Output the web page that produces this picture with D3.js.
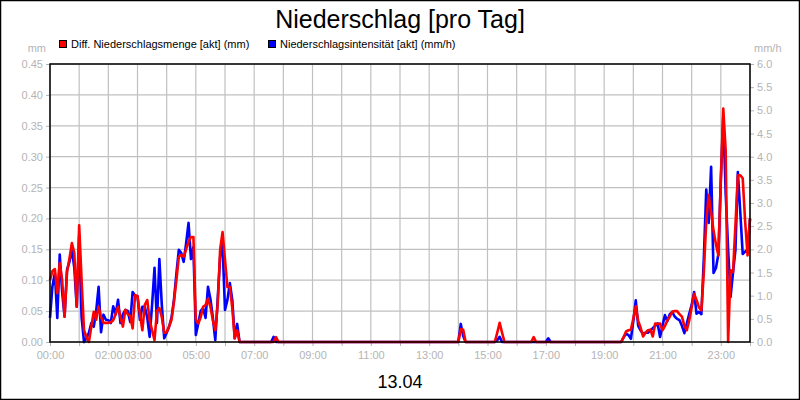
<!DOCTYPE html>
<html>
<head>
<meta charset="utf-8">
<script src="https://cdn.jsdelivr.net/npm/d3@7"></script>
<style>
  body { margin: 0; background: #fff; }
  svg { display: block; font-family: "Liberation Sans", Arial, sans-serif; }
</style>
</head>
<body>
<div id="chart"></div>
<script>
// values every 5 minutes, one row per hour (00:00 .. 24:00)
const mengeMm = [
  0.100, 0.115, 0.118, 0.079, 0.128, 0.100, 0.041, 0.113, 0.135, 0.160, 0.144, 0.057,
  0.189, 0.100, 0.019, 0.008, 0.000, 0.025, 0.049, 0.036, 0.057, 0.040, 0.031, 0.031,
  0.031, 0.032, 0.035, 0.045, 0.057, 0.040, 0.025, 0.052, 0.045, 0.042, 0.022, 0.076,
  0.074, 0.045, 0.019, 0.060, 0.068, 0.035, 0.019, 0.003, 0.050, 0.055, 0.040, 0.015,
  0.016, 0.025, 0.036, 0.065, 0.100, 0.138, 0.141, 0.138, 0.150, 0.162, 0.170, 0.170,
  0.036, 0.030, 0.040, 0.057, 0.060, 0.070, 0.057, 0.035, 0.019, 0.060, 0.150, 0.178,
  0.133, 0.089, 0.089, 0.055, 0.006, 0.019, 0.000, 0.000, 0.000, 0.000, 0.000, 0.000,
  0.000, 0.000, 0.000, 0.000, 0.000, 0.000, 0.000, 0.000, 0.000, 0.008, 0.000, 0.000,
  0, 0, 0, 0, 0, 0, 0, 0, 0, 0, 0, 0,
  0, 0, 0, 0, 0, 0, 0, 0, 0, 0, 0, 0,
  0, 0, 0, 0, 0, 0, 0, 0, 0, 0, 0, 0,
  0, 0, 0, 0, 0, 0, 0, 0, 0, 0, 0, 0,
  0, 0, 0, 0, 0, 0, 0, 0, 0, 0, 0, 0,
  0, 0, 0, 0, 0, 0, 0, 0, 0, 0, 0, 0,
  0.000, 0.021, 0.020, 0.000, 0.000, 0.000, 0.000, 0.000, 0.000, 0.000, 0.000, 0.000,
  0.000, 0.000, 0.000, 0.000, 0.015, 0.031, 0.015, 0.000, 0.000, 0.000, 0.000, 0.000,
  0.000, 0.000, 0.000, 0.000, 0.000, 0.000, 0.000, 0.008, 0.000, 0.000, 0.000, 0.000,
  0, 0, 0, 0, 0, 0, 0, 0, 0, 0, 0, 0,
  0, 0, 0, 0, 0, 0, 0, 0, 0, 0, 0, 0,
  0.000, 0.000, 0.000, 0.000, 0.000, 0.000, 0.000, 0.000, 0.008, 0.017, 0.019, 0.020,
  0.038, 0.058, 0.034, 0.023, 0.009, 0.015, 0.019, 0.020, 0.009, 0.030, 0.029, 0.030,
  0.019, 0.026, 0.035, 0.041, 0.049, 0.050, 0.050, 0.045, 0.041, 0.026, 0.019, 0.035,
  0.056, 0.078, 0.068, 0.056, 0.051, 0.113, 0.195, 0.238, 0.210, 0.180, 0.158, 0.140,
  0.263, 0.378, 0.310, 0.000, 0.116, 0.113, 0.188, 0.270, 0.270, 0.265, 0.195, 0.140,
  0.200
];

const intensMmh = [
  0.52, 1.20, 1.49, 0.52, 1.89, 1.07, 0.55, 1.56, 1.73, 1.99, 1.60, 0.76,
  2.30, 0.53, 0.00, 0.08, 0.20, 0.41, 0.33, 0.67, 1.19, 0.21, 0.59, 0.48,
  0.47, 0.41, 0.77, 0.60, 0.91, 0.41, 0.60, 0.69, 0.67, 0.43, 1.08, 1.00,
  0.99, 0.48, 0.76, 0.76, 0.53, 0.11, 0.80, 1.60, 0.41, 1.79, 0.80, 0.08,
  0.20, 0.33, 0.53, 0.91, 1.47, 1.99, 1.92, 1.73, 2.13, 2.57, 1.79, 2.05,
  0.15, 0.40, 0.67, 0.73, 0.52, 1.19, 0.93, 0.53, 0.04, 0.93, 1.84, 2.09,
  0.69, 0.91, 1.27, 0.91, 0.08, 0.39, 0.00, 0.00, 0.00, 0.00, 0.00, 0.00,
  0.00, 0.00, 0.00, 0.00, 0.00, 0.00, 0.00, 0.00, 0.11, 0.00, 0.00, 0.00,
  0, 0, 0, 0, 0, 0, 0, 0, 0, 0, 0, 0,
  0, 0, 0, 0, 0, 0, 0, 0, 0, 0, 0, 0,
  0, 0, 0, 0, 0, 0, 0, 0, 0, 0, 0, 0,
  0, 0, 0, 0, 0, 0, 0, 0, 0, 0, 0, 0,
  0, 0, 0, 0, 0, 0, 0, 0, 0, 0, 0, 0,
  0, 0, 0, 0, 0, 0, 0, 0, 0, 0, 0, 0,
  0.00, 0.39, 0.13, 0.00, 0.00, 0.00, 0.00, 0.00, 0.00, 0.00, 0.00, 0.00,
  0.00, 0.00, 0.00, 0.00, 0.04, 0.11, 0.00, 0.00, 0.00, 0.00, 0.00, 0.00,
  0.00, 0.00, 0.00, 0.00, 0.00, 0.00, 0.00, 0.00, 0.00, 0.00, 0.00, 0.00,
  0.00, 0.08, 0.00, 0.00, 0.00, 0.00, 0.00, 0.00, 0.00, 0.00, 0.00, 0.00,
  0, 0, 0, 0, 0, 0, 0, 0, 0, 0, 0, 0,
  0.00, 0.00, 0.00, 0.00, 0.00, 0.00, 0.00, 0.00, 0.10, 0.18, 0.15, 0.07,
  0.45, 0.90, 0.35, 0.25, 0.18, 0.20, 0.20, 0.25, 0.30, 0.35, 0.40, 0.11,
  0.35, 0.58, 0.45, 0.60, 0.65, 0.55, 0.50, 0.47, 0.35, 0.19, 0.40, 0.61,
  0.80, 1.08, 0.61, 0.65, 0.60, 1.80, 3.29, 2.57, 3.78, 1.49, 1.60, 1.90,
  3.50, 4.86, 3.20, 2.00, 0.97, 1.50, 1.98, 3.67, 2.80, 1.90, 1.95, 2.00,
  2.66
];

const hourTicks = d3.range(0, 25);
const hourLabels = ["00:00", "02:00", "03:00", "05:00", "07:00", "09:00", "11:00",
                    "13:00", "15:00", "17:00", "19:00", "21:00", "23:00"];
const leftTicks = d3.range(0, 0.451, 0.05);
const rightTicks = d3.range(0, 6.01, 0.5);

const W = 800, H = 400;
const margin = {top: 64, right: 50, bottom: 58, left: 50};
const w = W - margin.left - margin.right;
const h = H - margin.top - margin.bottom;
const grey = "#b4b4b4";

const svg = d3.select("#chart").append("svg")
  .attr("width", W).attr("height", H);

svg.append("rect").attr("x", 0.5).attr("y", 0.5)
  .attr("width", W - 1).attr("height", H - 1)
  .attr("fill", "#fff").attr("stroke", "#000").attr("stroke-width", 1.5);

svg.append("text").attr("x", W / 2).attr("y", 28)
  .attr("text-anchor", "middle").attr("font-size", 25)
  .text("Niederschlag [pro Tag]");

svg.append("text").attr("x", W / 2).attr("y", 388)
  .attr("text-anchor", "middle").attr("font-size", 18)
  .text("13.04");

// legend
const legend = [
  {label: "Diff. Niederschlagsmenge [akt] (mm)", color: "#ff0000", x: 59},
  {label: "Niederschlagsintensität [akt] (mm/h)", color: "#0000ff", x: 268}
];
legend.forEach(d => {
  svg.append("rect").attr("x", d.x + 0.5).attr("y", 40.5).attr("width", 7).attr("height", 7)
    .attr("fill", d.color).attr("stroke", "#000");
  svg.append("text").attr("x", d.x + 12).attr("y", 48)
    .attr("font-size", 11).text(d.label);
});

svg.append("text").attr("x", 46).attr("y", 52).attr("text-anchor", "end")
  .attr("font-size", 11).attr("fill", grey).text("mm");
svg.append("text").attr("x", 754).attr("y", 52)
  .attr("font-size", 11).attr("fill", grey).text("mm/h");

const g = svg.append("g").attr("transform", `translate(${margin.left},${margin.top})`);

const x = d3.scaleLinear().domain([0, 24 * 60]).range([0, w]);
const yL = d3.scaleLinear().domain([0, 0.45]).range([h, 0]);
const yR = d3.scaleLinear().domain([0, 6]).range([h, 0]);

// grid
g.selectAll(".vgrid").data(hourTicks).enter().append("line")
  .attr("x1", d => x(d * 60)).attr("x2", d => x(d * 60))
  .attr("y1", 0).attr("y2", h)
  .attr("stroke", "#c0c0c0").attr("stroke-width", 1.2);
g.selectAll(".hgrid").data(leftTicks).enter().append("line")
  .attr("x1", 0).attr("x2", w)
  .attr("y1", d => yL(d)).attr("y2", d => yL(d))
  .attr("stroke", "#c0c0c0").attr("stroke-width", 1.2);

// axes
const leftAxis = d3.axisLeft(yL).tickValues(leftTicks).tickSize(4).tickFormat(d3.format(".2f"));
const rightAxis = d3.axisRight(yR).tickValues(rightTicks).tickSize(4).tickFormat(d3.format(".1f"));
const bottomAxis = d3.axisBottom(x).tickValues(hourTicks.map(d => d * 60)).tickSize(4)
  .tickFormat(d => {
    const s = String(d / 60).padStart(2, "0") + ":00";
    return hourLabels.includes(s) ? s : "";
  });

function styleAxis(sel) {
  sel.select(".domain").remove();
  sel.selectAll(".tick line").attr("stroke", grey);
  sel.selectAll(".tick text").attr("fill", grey).attr("font-size", 11)
    .attr("font-family", "Liberation Sans, Arial, sans-serif");
}

g.append("g").call(leftAxis).call(styleAxis);
g.append("g").attr("transform", `translate(${w},0)`).call(rightAxis).call(styleAxis);
g.append("g").attr("transform", `translate(0,${h})`).call(bottomAxis).call(styleAxis)
  .selectAll(".tick text").attr("dy", "0.95em");

// series
const lineR = d3.line().x((d, i) => x(i * 5)).y(d => yL(d));
const lineB = d3.line().x((d, i) => x(i * 5)).y(d => yR(d));

g.append("path").datum(intensMmh).attr("d", lineB)
  .attr("fill", "none").attr("stroke", "#0000ff").attr("stroke-width", 2.6)
  .attr("stroke-linejoin", "round");
g.append("path").datum(mengeMm).attr("d", lineR)
  .attr("fill", "none").attr("stroke", "#ff0000").attr("stroke-width", 2.6)
  .attr("stroke-linejoin", "round");

// frame
g.append("rect").attr("x", 0).attr("y", 0).attr("width", w).attr("height", h)
  .attr("fill", "none").attr("stroke", "#000").attr("stroke-width", 1.5);
</script>
</body>
</html>
